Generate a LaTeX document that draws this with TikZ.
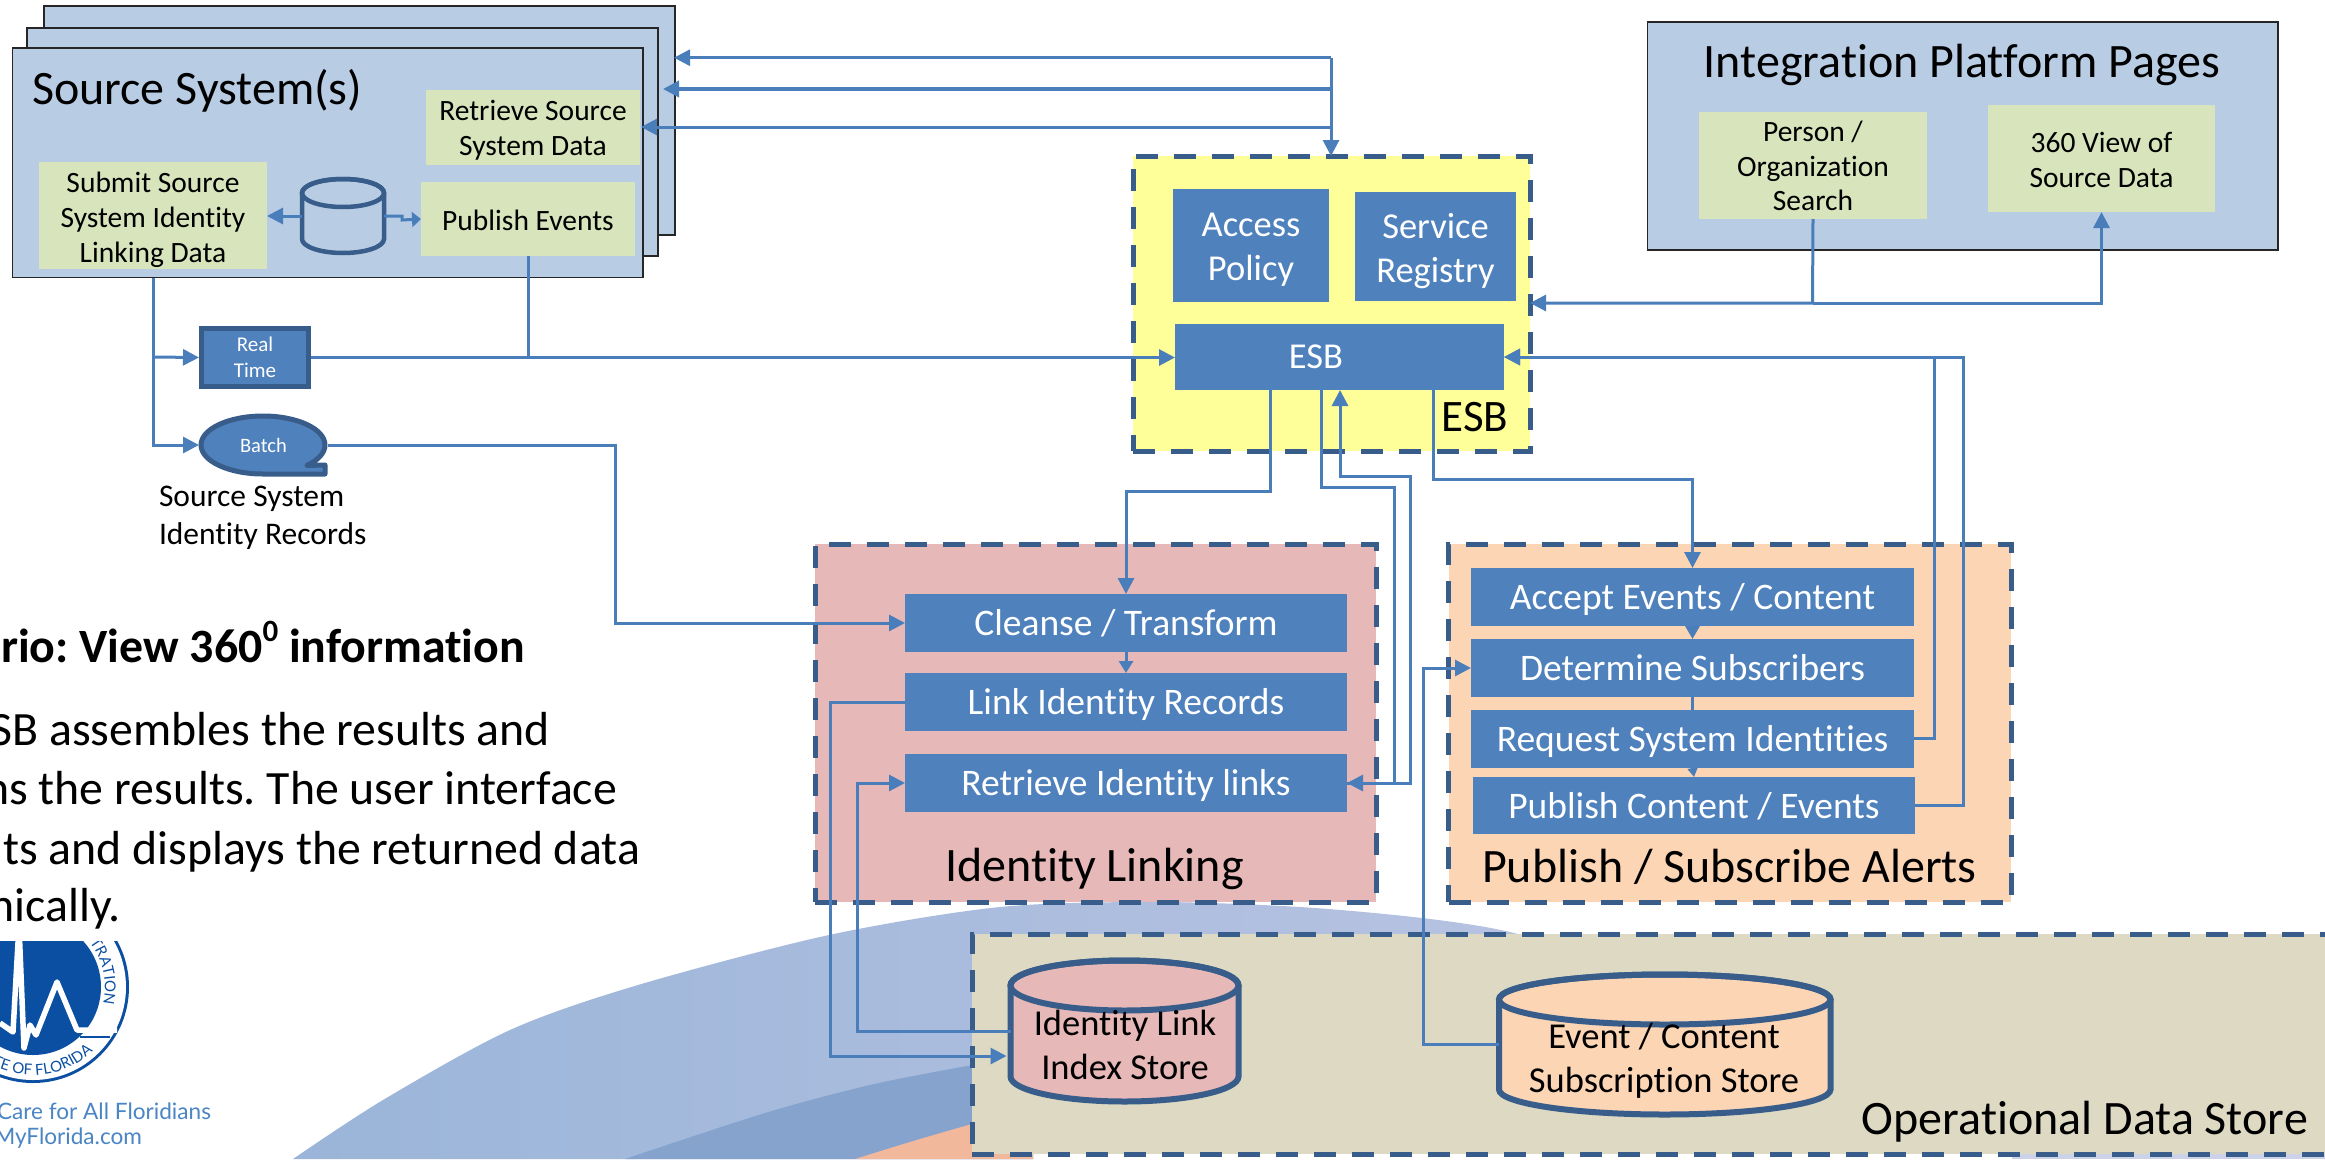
\documentclass[tikz,border=0pt]{standalone}
\usepackage{fontspec}
\setmainfont{Carlito}[Ligatures=NoCommon]
\newfontfamily\latofam{Lato}
\usetikzlibrary{arrows.meta,decorations.text}
\definecolor{srcblue}{HTML}{B8CCE4}
\definecolor{greenbox}{HTML}{D8E4BC}
\definecolor{corebox}{HTML}{4F81BD}
\definecolor{yellowg}{HTML}{FFFF99}
\definecolor{pinkg}{HTML}{E6B8B7}
\definecolor{peachg}{HTML}{FCD5B5}
\definecolor{tang}{HTML}{DDD9C3}
\definecolor{darkedge}{HTML}{385D8A}
\definecolor{lc}{HTML}{4A7EBB}
\definecolor{logob}{HTML}{0B4FA3}
\definecolor{logot}{HTML}{4A85C5}
\definecolor{arcA}{HTML}{9AB5D9}
\definecolor{arcB}{HTML}{B9C3E2}
\definecolor{arcC}{HTML}{85A3CD}
\definecolor{arcD}{HTML}{F2B89B}
\definecolor{arcE}{HTML}{CCD3E8}
\newcommand{\fsz}[2]{\fontsize{#1pt}{#2pt}\selectfont}
\newcommand{\placebox}[7]{%
  \pgfmathsetmacro\bcx{(#3+#5)/2}\pgfmathsetmacro\bcy{(#4+#6)/2}%
  \pgfmathsetmacro\bw{#5-#3}\pgfmathsetmacro\bh{#6-#4}%
  \node[#1,minimum width=\bw pt,minimum height=\bh pt] (#2) at (\bcx,\bcy) {#7};}
\newcommand{\boxtext}[5]{\node[#1] (#2) at ([yshift=-#4pt]#3.center) {#5};}
\newcommand{\placecyl}[8]{%
  \pgfmathsetmacro\bcx{(#2+#4)/2}\pgfmathsetmacro\bcy{(#3+#5)/2}%
  \pgfmathsetmacro\bw{#4-#2}\pgfmathsetmacro\bh{#5-#3}\pgfmathsetmacro\brx{(#4-#2)/2}%
  \pgfmathsetmacro\ytop{#3+#6}\pgfmathsetmacro\ybot{#5-#6}%
  \filldraw[draw=darkedge,fill=#7,line width=#8pt]
    (#2,\ytop) -- (#2,\ybot) arc[start angle=180,end angle=360,x radius=\brx pt,y radius=#6pt]
    -- (#4,\ytop) arc[start angle=0,end angle=180,x radius=\brx pt,y radius=#6pt] -- cycle;
  \draw[darkedge,line width=#8pt] (\bcx,\ytop) ellipse[x radius=\brx pt,y radius=#6pt];
  \node[minimum width=\bw pt,minimum height=\bh pt,inner sep=0pt,outer sep=0pt] (#1) at (\bcx,\bcy) {};}
\tikzset{
  plainbox/.style={inner sep=0pt,outer sep=0pt,align=center},
  srcsys/.style={plainbox,fill=srcblue,draw=black!85,line width=1.6pt},
  greenb/.style={plainbox,fill=greenbox},
  greenlab/.style={plainbox,text=black,font=\fsz{29.5}{35}},
  blueb/.style={plainbox,fill=corebox,text=white,font=\fsz{37.5}{44},text height=28pt,text depth=3pt},
  regb/.style={plainbox,fill=corebox},
  reglab/.style={plainbox,text=white,font=\fsz{36.5}{44}},
  group/.style={plainbox,line width=5pt,draw=darkedge,dash pattern=on 22pt off 16pt},
  biglabel/.style={inner sep=0pt,outer sep=0pt,text=black,font=\fsz{48}{56}},
  paratext/.style={inner sep=0pt,outer sep=0pt,anchor=base east,text=black,font=\fsz{47.8}{58}},
  storetext/.style={inner sep=0pt,outer sep=0pt,align=center,text=black,font=\fsz{36.5}{44}},
  conn/.style={draw=lc,line width=3pt},
  tip/.style={-{Triangle[length=16pt,width=16pt]}},
  tipsmall/.style={-{Triangle[length=12pt,width=14pt]}},
  logotext/.style={inner sep=0pt,outer sep=0pt,anchor=mid east,text=logot,font=\latofam\fsz{22.6}{26}},
}
\frenchspacing
\begin{document}
\begin{tikzpicture}[x=1pt,y=-1pt]
\useasboundingbox (0,0) rectangle (2325,1159);
\fill[white] (0,0) rectangle (2325,1159);

% background swooshes
\shade[left color=arcA,right color=arcB]
  plot[smooth] coordinates {(293,1159) (383,1100) (510,1030) (638,985) (829,935) (1000,907) (1157,902) (1300,907) (1422,918) (1510,932) (1600,960)}
  -- (1600,1100) -- (1033,1150) -- (1033,1159) -- cycle;
\fill[arcC]
  plot[smooth] coordinates {(625,1159) (765,1113) (870,1085) (972,1065) (1033,1055)} -- (1033,1159) -- cycle;
\fill[arcD]
  plot[smooth] coordinates {(855,1159) (910,1142) (972,1124) (1033,1108)} -- (1033,1159) -- cycle;
\fill[arcE] (2012,1150) rectangle (2325,1159);

% logo
\begin{scope}
  \clip (0,941) rectangle (135,1090);
  \fill[logob] (33,987) circle[radius=96pt];
  \fill[white] (33,987) circle[radius=93pt];
  \fill[logob] (33,987) circle[radius=68pt];
  \draw[logob,line width=1.6pt] (110,1037) -- (80,1037);
  \draw[white,line width=5.5pt,line join=round] (0,1023) -- (13,1032) -- (19,925) -- (24,1048) -- (30,1025) -- (36,1035) -- (57,982) -- (77,1030) -- (117,1030);
  \path[decorate,decoration={text along path,text color=logob,text={|\latofam\fsz{15}{15}|ISTRATION}}]
    plot[domain=48:-35,samples=40] ({33+72*cos(\x)},{987-72*sin(\x)});
  \path[decorate,decoration={text along path,text color=logob,text={|\latofam\fsz{15}{15}|TE OF FLORIDA}}]
    plot[domain=-118:-35,samples=40] ({33+88*cos(\x)},{987-88*sin(\x)});
\end{scope}
\node[logotext] (care) at (211,1117) {Care for All Floridians};
\node[logotext] (myfl) at (142,1142) {MyFlorida.com};

% left paragraph
\node[paratext] (para0) at (525,662) {\textbf{rio: View 360\raisebox{.42em}{\fsz{31}{31}0} information}};
\node[paratext] (para1) at (550,745) {SB assembles the results and};
\node[paratext] (para2) at (617,804) {ns the results. The user interface};
\node[paratext] (para3) at (640,864) {ts and displays the returned data};
\node[paratext] (para4) at (121,921) {nically.};

% source system stack
\placebox{srcsys}{back3}{44}{6}{675}{235}{}
\placebox{srcsys}{back2}{27}{28}{658}{256}{}
\placebox{srcsys}{source}{12.5}{48}{643}{277.5}{}
\node[biglabel,anchor=west] (sourcelab) at (32,90.5) {Source System(s)};
\placebox{greenb}{srcret}{426}{90}{640}{165}{}
\boxtext{greenlab}{srcretlab}{srcret}{3}{Retrieve Source\\System Data}
\placebox{greenb}{srcpub}{421}{182}{635}{256}{}
\boxtext{greenlab}{srcpublab}{srcpub}{1.5}{Publish Events}
\placebox{greenb}{submit}{39}{162}{267}{268.5}{}
\boxtext{greenlab}{submitlab}{submit}{4.5}{Submit Source\\System Identity\\Linking Data}
\placecyl{srcdb}{302}{179}{384}{253}{14}{srcblue}{4.5}

% real time / batch
\placebox{plainbox,draw=darkedge,fill=corebox,line width=5pt,outer sep=2.5pt,text=white,font=\fsz{21}{26}}{rt}{201.5}{328.5}{308.5}{386.5}{Real\\Time}
\filldraw[draw=darkedge,fill=corebox,line width=5pt,line join=round]
  (263,474) arc[start angle=270,end angle=-45,x radius=62pt,y radius=29pt] -- (325,465) -- (325,474) -- cycle;
\placebox{plainbox,text=white,font=\fsz{20.5}{24}}{batch}{199}{414}{328}{476}{Batch}
\node[inner sep=0pt,outer sep=0pt,anchor=north west,align=left,text=black,font=\fsz{31.5}{38}] (sirec) at (159,486) {Source System\\Identity Records};

% ESB
\placebox{group,fill=yellowg}{esb}{1133}{156}{1530}{451}{}
\placebox{regb}{policy}{1173}{189}{1329}{302}{}
\boxtext{reglab}{policylab}{policy}{4.5}{Access\\Policy}
\placebox{regb}{registry}{1355}{192}{1516}{301}{}
\boxtext{reglab}{registrylab}{registry}{4.5}{Service\\Registry}
\placebox{regb}{core}{1175}{324}{1504}{390}{}
\node[inner sep=0pt,outer sep=0pt,text=white,font=\fsz{36.5}{44}] (corelab) at (1316,357) {ESB};
\node[biglabel,font=\fsz{45}{54}] (esblab) at (1475,417) {ESB};

% integration pages
\placebox{srcsys}{pages}{1647.5}{22}{2278}{250}{}
\node[biglabel] (pageslab) at (1962,65) {Integration Platform Pages};
\placebox{greenb}{person}{1699}{112}{1927}{219}{}
\boxtext{greenlab,font=\fsz{29.5}{34.5}}{personlab}{person}{0.5}{Person /\\Organization\\Search}
\placebox{greenb}{view}{1988}{105}{2215}{212}{}
\boxtext{greenlab,font=\fsz{29.5}{34.5}}{viewlab}{view}{1.5}{360 View of\\Source Data}

% identity linking
\placebox{group,fill=pinkg}{idlink}{815}{544}{1376}{902}{}
\placebox{blueb}{cleanse}{905}{594}{1347}{652}{Cleanse / Transform}
\placebox{blueb}{linkrec}{905}{673}{1347}{731}{Link Identity Records}
\placebox{blueb}{retlink}{905}{754}{1347}{812}{Retrieve Identity links}
\node[biglabel] (idlab) at (1094.5,869) {Identity Linking};

% publish / subscribe
\placebox{group,fill=peachg}{pubsub}{1448.5}{544}{2011}{902}{}
\placebox{blueb}{accept}{1471}{568}{1914}{626}{Accept Events / Content}
\placebox{blueb}{determine}{1471}{639}{1914}{697}{Determine Subscribers}
\placebox{blueb}{request}{1471}{710}{1914}{767.5}{Request System Identities}
\placebox{blueb}{publish}{1473}{777}{1915}{834}{Publish Content / Events}
\node[biglabel] (pslab) at (1729.5,867) {Publish / Subscribe Alerts};

% operational data store
\placebox{group,fill=tang}{ods}{972}{934}{2345}{1154}{}
\node[biglabel,anchor=east] (odslab) at (2308,1122) {Operational Data Store};
\placecyl{idstore}{1010.5}{960.5}{1238.5}{1101.5}{25}{pinkg}{6}
\node[storetext] (idstorelab) at (1125,1045) {Identity Link\\Index Store};
\placecyl{evstore}{1499}{974.5}{1830.5}{1114.5}{25}{peachg}{6}
\node[storetext] (evstorelab) at (1664,1060.5) {Event / Content\\Subscription Store};

% waypoints
\coordinate (jt1) at (1331,57.7);
\coordinate (jt2) at (1331,89);
\coordinate (jt3) at (1331,127);
\coordinate (js) at (153,357);
\coordinate (jb) at (615,623);
\coordinate (ja1) at (1270,491);
\coordinate (ja2) at (1321,487);
\coordinate (ja3) at (1394,487);
\coordinate (ja4) at (1410,476);
\coordinate (ja5) at (1340,476);
\coordinate (ja6) at (1433,479);
\coordinate (jp) at (1812.5,303);
\coordinate (jr) at (1934,357);
\coordinate (jq) at (1963,357);
\coordinate (jl) at (830,702);
\coordinate (jl2) at (830,1056);
\coordinate (ji) at (857,1031);
\coordinate (je) at (1423,1044.5);

% connectors: top
\draw[conn,tip] (jt1) -- (esb.north -| jt1);
\draw[conn,tip] (jt1) -- ([xshift=-1pt]back3.east |- jt1);
\draw[conn,tip,line width=3.6pt] (jt2) -- ([xshift=5pt]back2.east |- jt2);
\draw[conn,tip] (jt3) -- ([xshift=1pt]srcret.east |- jt3);
% source internals
\draw[conn,tip] (srcdb.west) -- (submit.east |- srcdb.west);
\draw[conn,-{Triangle[length=9pt,width=15pt]}] (srcdb.east) -- ++(18,0) -- ++(0,4) -- (srcpub.west);
% source outputs
\draw[conn,tip] (source.south -| js) |- (batch.west);
\draw[conn,tip] (js) -- (rt.west);
\draw[conn,tip] (rt.east) -- (core.west |- rt.east);
\draw[conn] (srcpub.south) -- (srcpub.south |- rt.east);
\draw[conn,tip] (batch.east) -- (batch.east -| jb) -- (jb) -- (cleanse.west);
% ESB to identity linking
\draw[conn,tip] (core.south -| ja1) -- (ja1) -| (cleanse.north);
\draw[conn,tip] (core.south -| ja2) -- (ja2) -- (ja3) |- (retlink.east);
\draw[conn,tip] (retlink.east) -| (ja4) -- (ja5) -- (core.south -| ja5);
% ESB to publish / subscribe
\draw[conn,tip] (core.south -| ja6) -- (ja6) -| (accept.north);
\draw[conn,-{Triangle[length=13pt,width=14pt]}] (accept.south) -- (determine.north);
\draw[conn] (determine.south) -- (request.north);
\draw[conn,-{Triangle[length=9pt,width=10pt]}] (request.south) -- (publish.north);
\draw[conn,tip] (request.east) -| (jr) -- (core.east);
\draw[conn,tip] (publish.east) -| (jq) -- (core.east);
% pages
\draw[conn,tip] (person.south) -- (jp) -- (esb.east |- jp);
\draw[conn,tip] (jp) -| (view.south);
% identity linking internals
\draw[conn,tipsmall] (cleanse.south) -- (linkrec.north);
\draw[conn,tip] (linkrec.west) -- (jl) -- (jl2) -- ([xshift=-4pt]idstore.west |- jl2);
\draw[conn,tip] (idstore.west) -- (ji) |- (retlink.west);
% event store
\draw[conn,tip] (evstore.west) -- (je) |- (determine.west);
\end{tikzpicture}
\end{document}
